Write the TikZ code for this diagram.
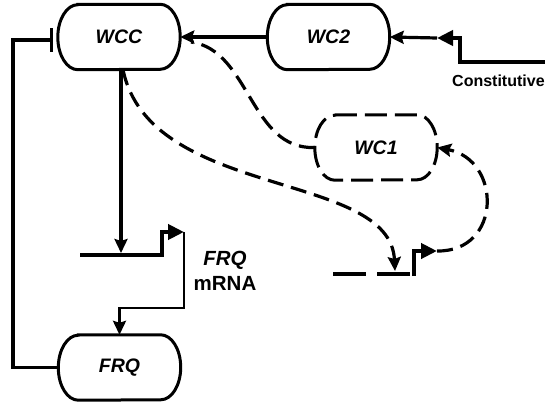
\documentclass[tikz,border=0pt]{standalone}
\usepackage{fontspec}
\setmainfont{Liberation Sans}
\usetikzlibrary{arrows.meta, positioning, calc}
\tikzset{
  cc protein/.style={
    rectangle, minimum width=122pt, minimum height=65pt, inner sep=0pt,
    font=\fontsize{19.5}{22}\selectfont\bfseries\itshape
  },
  cc border/.style={
    draw=black, line width=3pt
  },
  cc arrow/.style={
    -{Stealth[length=14pt,width=13pt,inset=2pt]}, line width=3.2pt
  },
  cc dashed arrow/.style={
    cc arrow, dash pattern=on 16pt off 8pt
  },
  cc dashed line/.style={
    line width=3.2pt, dash pattern=on 16pt off 8pt
  },
  cc gene/.style={
    line width=4.8pt
  },
  cc promoter/.style={
    -{Triangle[length=16pt,width=15pt]}, line width=4.8pt
  },
  cc inhibit/.style={
    -{Bar[width=23pt,line width=3.2pt]}, line width=3.2pt
  },
  cc label/.style={
    font=\fontsize{20.5}{25}\selectfont\bfseries, inner sep=0pt, align=center
  }
}
% pill outline round a protein node
\newcommand\pill[2][]{%
  \draw [cc border, #1] ([xshift=20pt]#2.north west) -- ([xshift=-20pt]#2.north east)
    arc[start angle=90, end angle=-90, x radius=20pt, y radius=32.5pt]
    -- ([xshift=20pt]#2.south west)
    arc[start angle=270, end angle=90, x radius=20pt, y radius=32.5pt] -- cycle;}

\begin{document}
\begin{tikzpicture}[x=1pt, y=-1pt, line join=miter]
  \useasboundingbox (0,0) rectangle (545,404);

  % proteins
  \node (wcc) [cc protein] at (119,37) {WCC};
  \node (wc2) [cc protein] at (328.5,37) {WC2};
  \node (wc1) [cc protein] at (376,147.5) {WC1};
  \node (frq) [cc protein] at (119.5,367.5) {FRQ};
  \pill{wcc}
  \pill{wc2}
  \pill[dash pattern=on 22pt off 8pt]{wc1}
  \pill{frq}

  % genes
  \coordinate (frqgene) at (80,255);
  \coordinate (frqtss) at (184,232);
  \coordinate (frqbend) at (184,308);
  \coordinate (wc1gene) at (333,274);
  \coordinate (wc1tss) at (437,251);
  \coordinate (wc1site) at (395,271);
  \coordinate (constend) at (548,62);
  \coordinate (consttss) at (437,38);
  \coordinate (loopleft) at (13,40);
  \coordinate (wccin) at (191,42);

  \draw [cc promoter] (frqgene) -- (162,255) -- (162,232) -- (frqtss);
  \draw [cc gene, dash pattern=on 33pt off 11pt] (wc1gene) -- (410,274);
  \draw [cc promoter] (414,276) |- (wc1tss);
  \draw [cc promoter] (constend) -- (460,62) -- (460,38) -- (consttss);

  \node (frqmrna) [cc label] at (225,271) {\itshape FRQ\\mRNA};
  \node (const) [cc label, font=\fontsize{16}{19}\selectfont\bfseries, anchor=west] at (452,81) {Constitutive};

  % connectors
  \draw [cc arrow] (consttss) -- (wc2.east);
  \draw [cc arrow] (wc2) -- (wcc);
  \draw [cc arrow, shorten >=2pt] ([xshift=2pt]wcc.south) -- ([xshift=2pt]wcc.south |- frqgene);
  \draw [line width=2.8pt, -{Stealth[length=14pt,width=13pt,inset=2pt]}] (frqtss) -- (frqbend) -| (frq.north);
  \draw [cc inhibit, shorten >=5pt] (frq.west) -| (loopleft) -- (loopleft -| wcc.west);
  \draw [cc dashed line] (wc1.west) .. controls (250,150) and (250,50) .. (wccin);
  \draw [cc dashed arrow] ([xshift=4pt]wcc.south) .. controls (150,200) and (390,170) .. (wc1site);
  \draw [cc dashed arrow] (wc1tss) .. controls (502,252) and (502,160) .. (wc1.east);
\end{tikzpicture}
\end{document}
